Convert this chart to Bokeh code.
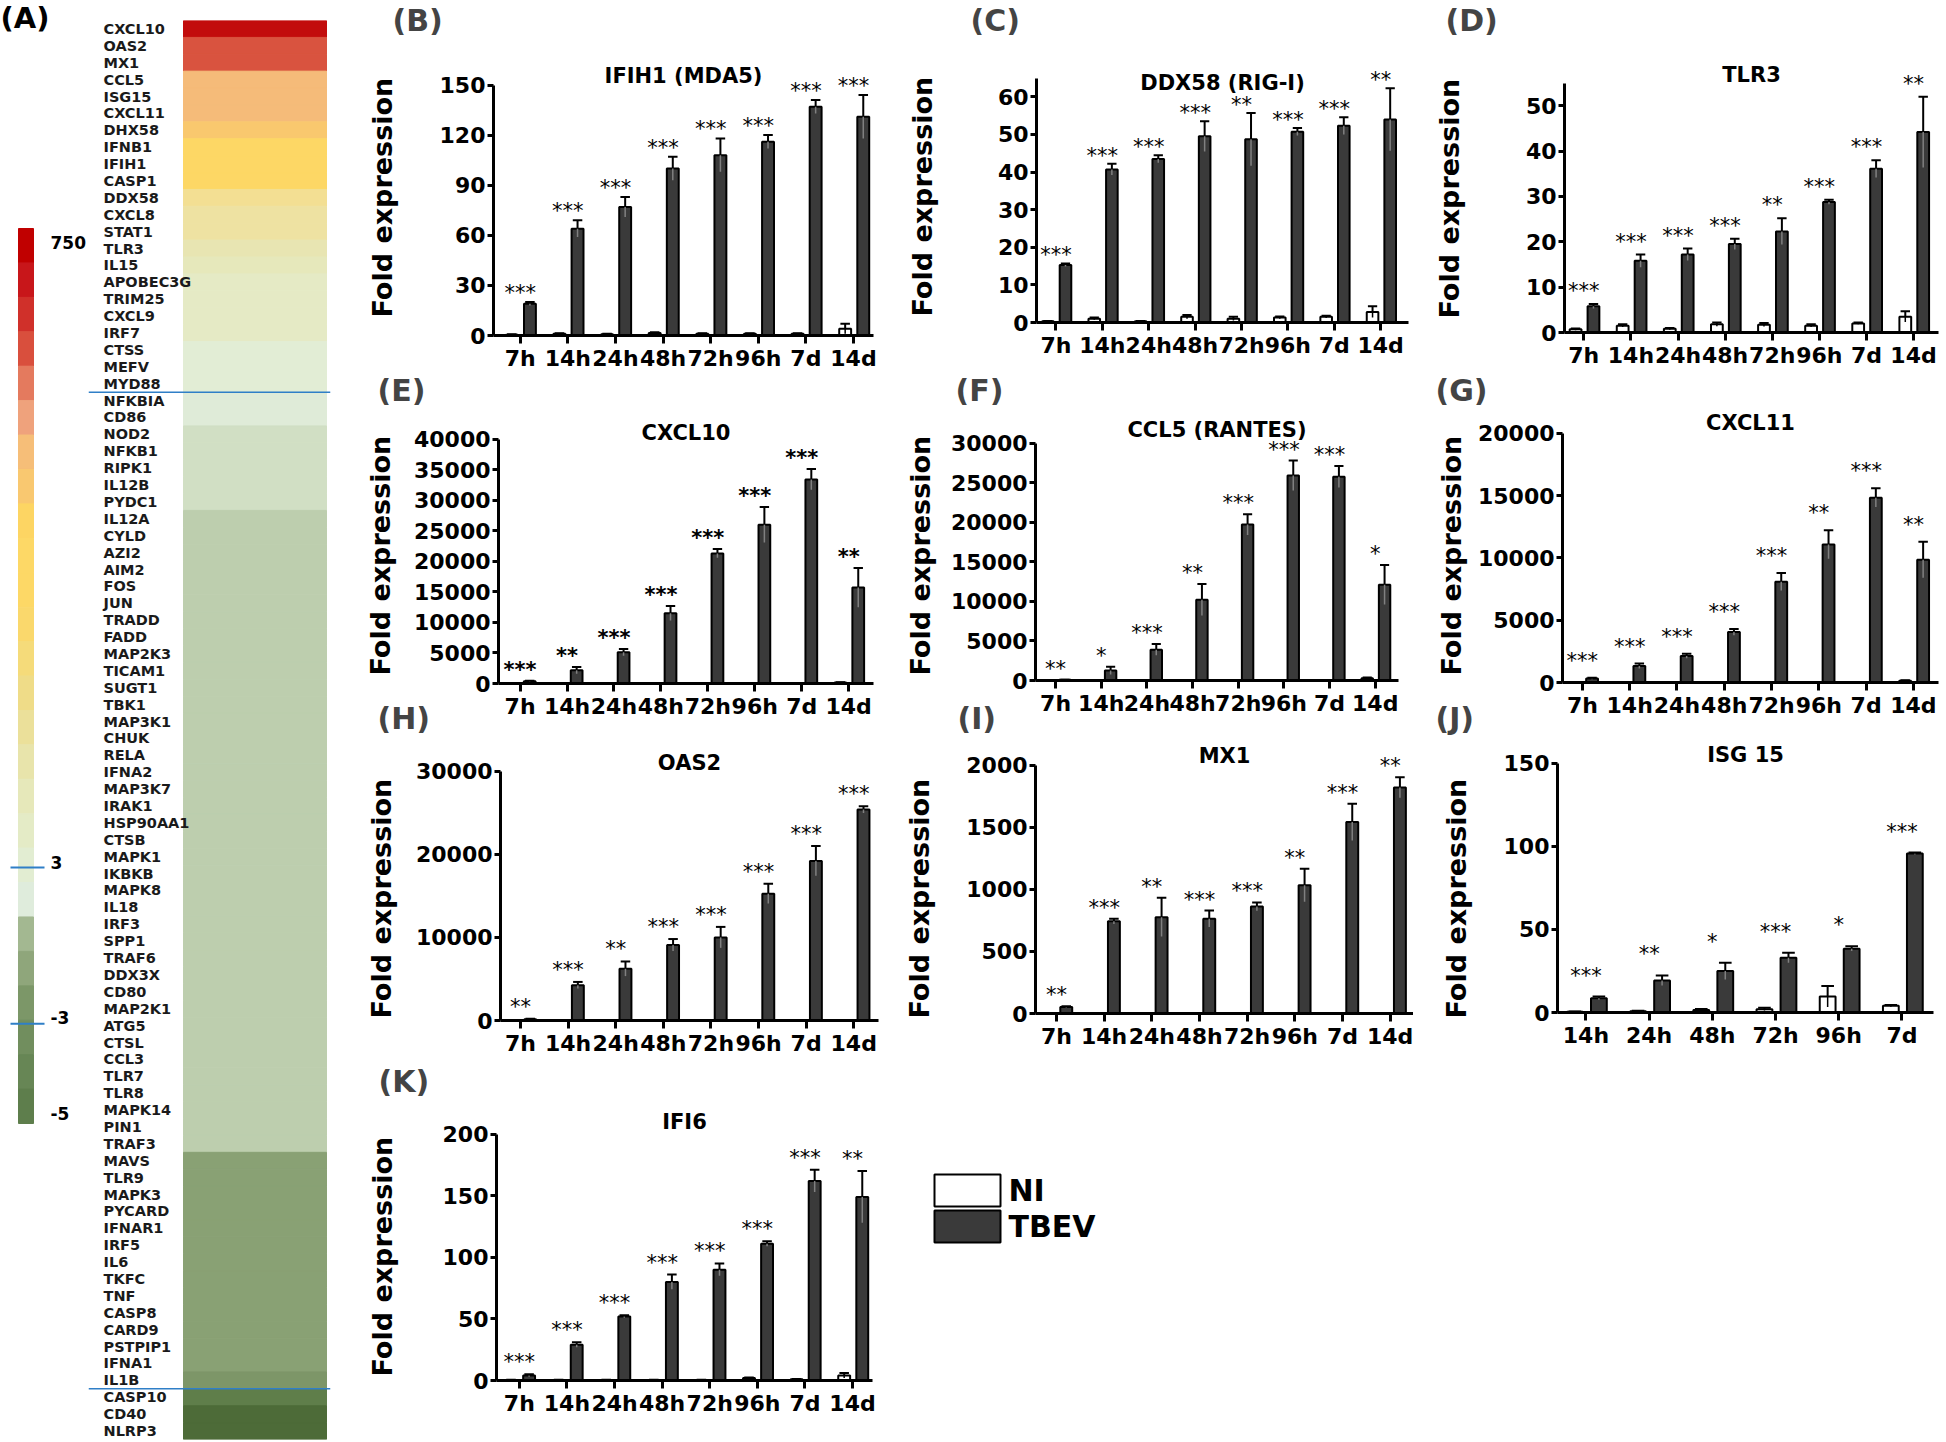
from bokeh.plotting import figure
from bokeh.models import Range1d, FixedTicker, ColumnDataSource, Title
from bokeh.layouts import row, column
from bokeh.embed import file_html
from bokeh.resources import INLINE
from bokeh.core.properties import value

FONT = "DejaVu Sans"
TBEV_FILL = "#3a3a3a"
BLUE = "#2F7FC7"

# ---------------- heatmap data (panel A) ----------------
GENES = ["CXCL10", "OAS2", "MX1", "CCL5", "ISG15", "CXCL11", "DHX58", "IFNB1", "IFIH1", "CASP1",
         "DDX58", "CXCL8", "STAT1", "TLR3", "IL15", "APOBEC3G", "TRIM25", "CXCL9", "IRF7", "CTSS",
         "MEFV", "MYD88", "NFKBIA", "CD86", "NOD2", "NFKB1", "RIPK1", "IL12B", "PYDC1", "IL12A",
         "CYLD", "AZI2", "AIM2", "FOS", "JUN", "TRADD", "FADD", "MAP2K3", "TICAM1", "SUGT1",
         "TBK1", "MAP3K1", "CHUK", "RELA", "IFNA2", "MAP3K7", "IRAK1", "HSP90AA1", "CTSB", "MAPK1",
         "IKBKB", "MAPK8", "IL18", "IRF3", "SPP1", "TRAF6", "DDX3X", "CD80", "MAP2K1", "ATG5",
         "CTSL", "CCL3", "TLR7", "TLR8", "MAPK14", "PIN1", "TRAF3", "MAVS", "TLR9", "MAPK3",
         "PYCARD", "IFNAR1", "IRF5", "IL6", "TKFC", "TNF", "CASP8", "CARD9", "PSTPIP1", "IFNA1",
         "IL1B", "CASP10", "CD40", "NLRP3"]
GENE_COLORS = (["#C20C0C", "#D9533F", "#D9533F", "#F5BB79", "#F5BB79", "#F5BB79", "#F9C86E",
                "#FDD765", "#FDD765", "#FDD765", "#F3DF93", "#EEE2A2", "#EEE2A2", "#E8E5B2", "#E6E8BB"]
               + ["#E5EAC5"] * 4 + ["#E2EDD5"] * 3 + ["#DFEBD8"] * 2 + ["#D1DFC4"] * 5
               + ["#BDCEAE"] * 38 + ["#89A174"] * 13 + ["#7D9668", "#5F7E4A", "#4D6B38", "#4D6B38"])
SEPARATORS_BEFORE = ["NFKBIA", "CASP10"]

CBAR_COLORS = ["#C00000", "#C8161A", "#D0302A", "#D94F3D", "#E47A5E", "#EFA27C", "#F6BE78",
               "#F9C870", "#FDD563", "#FDD866", "#FDD866", "#FAD86C", "#F5DB7A", "#EFDC88",
               "#EBE09A", "#E8E4AB", "#E6E8BA", "#E4EBC6", "#E2EDD2", "#DFECDC", "#A3B891",
               "#8FA67B", "#7C9768", "#718E5E", "#678655", "#5E7E4C"]
CBAR_LABELS = ["750", "3", "-3", "-5"]
CBAR_LABEL_POS = [0.41, 18.42, 22.92, 25.71]
CBAR_MARK_POS = [18.56, 23.1]

# ---------------- bar chart data ----------------
TIMES = ["7h", "14h", "24h", "48h", "72h", "96h", "7d", "14d"]
TIMES_J = ["14h", "24h", "48h", "72h", "96h", "7d"]

tbev_B = [19, 64, 77, 100, 108, 116, 137, 131]
tbev_err_B = [1, 5, 6, 7, 10, 4, 4, 13]
ni_B = [0.5, 1, 0.8, 1.5, 1, 1, 1, 4]
ni_err_B = [0.2, 0.3, 0.2, 0.5, 0.3, 0.3, 0.3, 3]
sig_B = ["***", "***", "***", "***", "***", "***", "***", "***"]
yticks_B = [0, 30, 60, 90, 120, 150]

tbev_C = [15.3, 40.7, 43.5, 49.5, 48.7, 50.7, 52.3, 54]
tbev_err_C = [0.4, 1.5, 1.0, 4.0, 7.0, 1.0, 2.3, 8.3]
ni_C = [0.3, 1.0, 0.3, 1.5, 1.0, 1.3, 1.5, 2.8]
ni_err_C = [0.1, 0.3, 0.1, 0.5, 0.5, 0.3, 0.3, 1.5]
sig_C = ["***", "***", "***", "***", "**", "***", "***", "**"]
yticks_C = [0, 10, 20, 30, 40, 50, 60]

tbev_D = [5.8, 15.8, 17.2, 19.5, 22.3, 28.8, 36.1, 44.2]
tbev_err_D = [0.5, 1.4, 1.3, 1.2, 2.9, 0.5, 1.9, 7.8]
ni_D = [0.7, 1.5, 0.8, 1.8, 1.7, 1.5, 2.0, 3.5]
ni_err_D = [0.2, 0.3, 0.2, 0.4, 0.4, 0.3, 0.2, 1.2]
sig_D = ["***", "***", "***", "***", "**", "***", "***", "**"]
yticks_D = [0, 10, 20, 30, 40, 50]

tbev_E = [350, 2150, 5100, 11500, 21300, 26000, 33400, 15700]
tbev_err_E = [100, 550, 550, 1200, 700, 2900, 1700, 3200]
ni_E = [1, 1, 1, 1, 1, 1, 1, 150]
ni_err_E = [0, 0, 0, 0, 0, 0, 0, 50]
sig_E = ["***", "**", "***", "***", "***", "***", "***", "**"]
yticks_E = [0, 5000, 10000, 15000, 20000, 25000, 30000, 35000, 40000]

tbev_F = [80, 1250, 3900, 10200, 19700, 25900, 25750, 12100]
tbev_err_F = [20, 500, 700, 2000, 1300, 1900, 1350, 2500]
ni_F = [1, 1, 1, 1, 1, 1, 1, 300]
ni_err_F = [0, 0, 0, 0, 0, 0, 0, 80]
sig_F = ["**", "*", "***", "**", "***", "***", "***", "*"]
yticks_F = [0, 5000, 10000, 15000, 20000, 25000, 30000]

tbev_G = [320, 1320, 2120, 4050, 8080, 11070, 14830, 9850]
tbev_err_G = [60, 200, 180, 250, 700, 1150, 750, 1450]
ni_G = [1, 1, 1, 1, 1, 1, 1, 150]
ni_err_G = [0, 0, 0, 0, 0, 0, 0, 40]
sig_G = ["***", "***", "***", "***", "***", "**", "***", "**"]
yticks_G = [0, 5000, 10000, 15000, 20000]

tbev_H = [160, 4240, 6220, 9080, 10000, 15260, 19200, 25370]
tbev_err_H = [40, 400, 880, 720, 1260, 1190, 1800, 400]
ni_H = [1, 1, 1, 1, 1, 1, 1, 1]
ni_err_H = [0, 0, 0, 0, 0, 0, 0, 0]
sig_H = ["**", "***", "**", "***", "***", "***", "***", "***"]
yticks_H = [0, 10000, 20000, 30000]

tbev_I = [53, 742, 776, 763, 861, 1033, 1542, 1820]
tbev_err_I = [5, 21, 156, 66, 34, 133, 148, 82]
ni_I = [1, 1, 1, 1, 1, 1, 1, 1]
ni_err_I = [0, 0, 0, 0, 0, 0, 0, 0]
sig_I = ["**", "***", "**", "***", "***", "**", "***", "**"]
yticks_I = [0, 500, 1000, 1500, 2000]

tbev_J = [8.6, 19.3, 24.9, 32.9, 38.4, 95.6]
tbev_err_J = [1.0, 3.0, 5.0, 3.0, 1.4, 0.6]
ni_J = [0.5, 0.8, 1.5, 2.0, 9.6, 4.0]
ni_err_J = [0.1, 0.2, 0.6, 0.8, 6.3, 0.5]
sig_J = ["***", "**", "*", "***", "*", "***"]
yticks_J = [0, 50, 100, 150]

tbev_K = [4, 29, 52, 80, 90, 111, 162, 149]
tbev_err_K = [1, 2, 1, 6, 5, 2, 9, 21]
ni_K = [0.5, 0.5, 0.5, 0.5, 0.5, 2, 1, 4]
ni_err_K = [0.1, 0.1, 0.1, 0.1, 0.1, 0.5, 0.3, 2]
sig_K = ["***", "***", "***", "***", "***", "***", "***", "**"]
yticks_K = [0, 50, 100, 150, 200]

LEGEND_LABELS = ["NI", "TBEV"]
LEGEND_COLORS = ["white", TBEV_FILL]

# ---------------- layout constants (page pixels) ----------------
A_W, A_H = 353, 1440
COL_X = [353, 893, 1413]
COL_W = [540, 520, 527]
ROW_Y = [0, 370, 698, 1061]
ROW_B = [380, 728, 1066, 1440]
ROW_H = [b - t for t, b in zip(ROW_Y, ROW_B)]
TOP = 34
BAR_W = 0.25
NI_OFF = -0.175
TB_OFF = 0.205
CAP = 0.1
TICK_FS = 22
DIGIT_W = 0.696 * TICK_FS
YT_FS = 27
YT_LEN = 236            # rendered length of the rotated y title (px)


def clean(p):
    p.outline_line_color = None
    p.border_fill_color = None
    p.background_fill_color = None
    p.xgrid.visible = False
    p.ygrid.visible = False


def bar_panel(cats, tbev, tbev_err, ni, ni_err, sig, title, letter, yticks, g):
    n = len(cats)
    fx, fy = COL_X[g["col"]], ROW_Y[g["row"]]
    fw, fh = COL_W[g["col"]], ROW_H[g["row"]]
    left = g["axis"] - fx
    right = fx + fw - g["xend"]
    y0 = g["y0"] - fy
    ytop = g["ytop_px"] - fy
    ymax = yticks[-1]
    scale = (y0 - ytop) / ymax
    y_end = ymax + (ytop - TOP) / scale
    x0, x1 = -g["pad"][0], n - 1 + g["pad"][1]
    p = figure(width=fw, height=fh, x_range=Range1d(x0, x1), y_range=Range1d(0, y_end),
               min_border_left=left, min_border_right=right, min_border_top=TOP,
               min_border_bottom=fh - y0, output_backend="svg", toolbar_location=None,
               title=letter)
    clean(p)
    p.title.text_font = FONT
    p.title.text_font_size = "30px"
    p.title.text_font_style = "bold"
    p.title.align = "left"
    p.title.offset = g["letter_x"] - g["axis"]
    p.title.standoff = 0

    xs = list(range(n))
    x_ni = [i + NI_OFF for i in xs]
    x_tb = [i + TB_OFF for i in xs]
    src = ColumnDataSource(dict(x_ni=x_ni, x_tb=x_tb, ni=ni, tb=tbev))
    p.vbar(x="x_ni", top="ni", bottom=0, width=BAR_W, source=src,
           fill_color="white", line_color="black", line_width=2)
    p.vbar(x="x_tb", top="tb", bottom=0, width=BAR_W, source=src,
           fill_color=TBEV_FILL, line_color="black", line_width=2)

    # error bars
    for xv, vals, errs, inner in ((x_tb, tbev, tbev_err, "#808080"), (x_ni, ni, ni_err, "black")):
        xe = [x for x, e in zip(xv, errs) if e > 0]
        ve = [v for v, e in zip(vals, errs) if e > 0]
        ee = [e for e in errs if e > 0]
        if not xe:
            continue
        hi = [v + e for v, e in zip(ve, ee)]
        lo = [max(v - e, 0) for v, e in zip(ve, ee)]
        p.segment(x0=xe, y0=ve, x1=xe, y1=hi, line_color="black", line_width=2)
        p.segment(x0=xe, y0=lo, x1=xe, y1=ve, line_color=inner, line_width=1.5)
        p.segment(x0=[x - CAP for x in xe], y0=hi, x1=[x + CAP for x in xe], y1=hi,
                  line_color="black", line_width=2)

    # significance stars
    star_y = [max(t + te, a + ae) for t, te, a, ae in zip(tbev, tbev_err, ni, ni_err)]
    p.text(x=xs, y=star_y, text=sig, text_align="center", text_baseline="alphabetic",
           y_offset=-(g["star_h"] - 3), text_font=value(FONT), text_font_size="21px",
           text_font_style="bold" if g.get("star_bold") else "normal", text_color="black")

    # chart title
    p.text(x=[(x0 + x1) / 2], y=[ymax], text=[title], text_align="center",
           text_baseline="middle", y_offset=g["title_dy"], text_font=value(FONT),
           text_font_size="21px", text_font_style="bold", text_color="black")

    # axes
    p.xaxis.ticker = FixedTicker(ticks=xs)
    p.xaxis.major_label_overrides = {i: c for i, c in enumerate(cats)}
    p.yaxis.ticker = FixedTicker(ticks=yticks)
    p.yaxis.bounds = (0, g["axis_top"])
    for ax in (p.xaxis, p.yaxis):
        ax.axis_line_width = 3
        ax.axis_line_color = "black"
        ax.major_tick_line_width = 3
        ax.major_tick_line_color = "black"
        ax.major_tick_in = 0
        ax.minor_tick_line_color = None
        ax.major_label_text_font = FONT
        ax.major_label_text_font_size = f"{TICK_FS}px"
        ax.major_label_text_font_style = "bold"
        ax.major_label_text_color = "black"
    p.xaxis.major_tick_out = 8
    p.xaxis.major_label_standoff = 2
    p.yaxis.major_tick_out = 6
    p.yaxis.major_label_standoff = 2

    # y-axis title: a spacer then a left-side title, placed where the original sits
    label_w = max(len(str(t)) for t in yticks) * DIGIT_W
    gap = (g["axis"] - g["ylabel_cx"]) - 6 - 2 - label_w - YT_FS * 1.164 / 2 - 3 - 1.2
    spacer = Title(text=" ", text_font_size="1px", standoff=max(int(round(gap)), 0))
    p.add_layout(spacer, "left")
    ytitle = Title(text="Fold expression", align="left", text_font=FONT,
                   text_font_size=f"{YT_FS}px", text_font_style="bold", text_color="black",
                   standoff=0, offset=g["y0"] - (g["ylabel_cy"] + YT_LEN / 2))
    p.add_layout(ytitle, "left")
    return column(p)


pB = bar_panel(TIMES, tbev_B, tbev_err_B, ni_B, ni_err_B, sig_B, "IFIH1 (MDA5)", "(B)", yticks_B,
               dict(col=0, row=0, axis=493, xend=873, y0=335, ytop_px=82, axis_top=150, title_dy=-9,
                    letter_x=392, ylabel_cx=383, ylabel_cy=199, pad=(0.56, 0.42), star_h=12))
pC = bar_panel(TIMES, tbev_C, tbev_err_C, ni_C, ni_err_C, sig_C, "DDX58 (RIG-I)", "(C)", yticks_C,
               dict(col=1, row=0, axis=1036, xend=1408, y0=322, ytop_px=94, axis_top=65, title_dy=-14,
                    letter_x=970, ylabel_cx=923, ylabel_cy=198, pad=(0.42, 0.6), star_h=11))
pD = bar_panel(TIMES, tbev_D, tbev_err_D, ni_D, ni_err_D, sig_D, "TLR3", "(D)", yticks_D,
               dict(col=2, row=0, axis=1564, xend=1938, y0=332, ytop_px=103, axis_top=55, title_dy=-31,
                    letter_x=1445, ylabel_cx=1450, ylabel_cy=200, pad=(0.41, 0.53), star_h=16))
pE = bar_panel(TIMES, tbev_E, tbev_err_E, ni_E, ni_err_E, sig_E, "CXCL10", "(E)", yticks_E,
               dict(col=0, row=1, axis=498, xend=873, y0=683, ytop_px=436, axis_top=40000, title_dy=-6,
                    letter_x=377, ylabel_cx=382, ylabel_cy=557, pad=(0.46, 0.53), star_h=14,
                    star_bold=True))
pF = bar_panel(TIMES, tbev_F, tbev_err_F, ni_F, ni_err_F, sig_F, "CCL5 (RANTES)", "(F)", yticks_F,
               dict(col=1, row=1, axis=1035, xend=1398, y0=680, ytop_px=440, axis_top=30000, title_dy=-13,
                    letter_x=955, ylabel_cx=922, ylabel_cy=557, pad=(0.44, 0.51), star_h=14))
pG = bar_panel(TIMES, tbev_G, tbev_err_G, ni_G, ni_err_G, sig_G, "CXCL11", "(G)", yticks_G,
               dict(col=2, row=1, axis=1562, xend=1938, y0=682, ytop_px=430, axis_top=20000, title_dy=-10,
                    letter_x=1435, ylabel_cx=1453, ylabel_cy=557, pad=(0.42, 0.53), star_h=20))
pH = bar_panel(TIMES, tbev_H, tbev_err_H, ni_H, ni_err_H, sig_H, "OAS2", "(H)", yticks_H,
               dict(col=0, row=2, axis=500, xend=878, y0=1020, ytop_px=768, axis_top=30000, title_dy=-8,
                    letter_x=377, ylabel_cx=383, ylabel_cy=900, pad=(0.42, 0.52), star_h=15))
pI = bar_panel(TIMES, tbev_I, tbev_err_I, ni_I, ni_err_I, sig_I, "MX1", "(I)", yticks_I,
               dict(col=1, row=2, axis=1035, xend=1415, y0=1013, ytop_px=762, axis_top=2000, title_dy=-9,
                    letter_x=957, ylabel_cx=920, ylabel_cy=900, pad=(0.44, 0.49), star_h=14))
pJ = bar_panel(TIMES_J, tbev_J, tbev_err_J, ni_J, ni_err_J, sig_J, "ISG 15", "(J)", yticks_J,
               dict(col=2, row=2, axis=1557, xend=1933, y0=1012, ytop_px=760, axis_top=150, title_dy=-8,
                    letter_x=1435, ylabel_cx=1457, ylabel_cy=900, pad=(0.45, 0.5), star_h=24))
pK = bar_panel(TIMES, tbev_K, tbev_err_K, ni_K, ni_err_K, sig_K, "IFI6", "(K)", yticks_K,
               dict(col=0, row=3, axis=496, xend=872, y0=1380, ytop_px=1131, axis_top=200, title_dy=-12,
                    letter_x=378, ylabel_cx=383, ylabel_cy=1258, pad=(0.48, 0.42), star_h=15))

# ---------------- legend figure ----------------
LEG_W, LEG_H = COL_W[1] + COL_W[2], ROW_H[3]
leg = figure(width=LEG_W, height=LEG_H, x_range=Range1d(0, LEG_W), y_range=Range1d(LEG_H, 0),
             min_border=0, x_axis_location=None, y_axis_location=None,
             output_backend="svg", toolbar_location=None)
clean(leg)
BOX_X, BOX_Y, BOX_W, BOX_H, BOX_PITCH = 41, 113, 66, 32, 36
tops = [BOX_Y + i * BOX_PITCH for i in range(len(LEGEND_LABELS))]
leg.quad(left=BOX_X, right=BOX_X + BOX_W, top=tops, bottom=[t + BOX_H for t in tops],
         fill_color=LEGEND_COLORS, line_color="black", line_width=2)
leg.text(x=BOX_X + BOX_W + 8, y=[t + BOX_H / 2 for t in tops], text=LEGEND_LABELS,
         text_align="left", text_baseline="middle", text_font=value(FONT),
         text_font_size="30px", text_font_style="bold", text_color="black")

# ---------------- panel A: colour bar ----------------
CB_W = 88
CB_X0, CB_BAR_W, CB_TOP, CB_BOTTOM = 18, 15, 228, 1123
CB_BLOCK = (CB_BOTTOM - CB_TOP) / len(CBAR_COLORS)
cbar = figure(width=CB_W, height=A_H,
              x_range=Range1d(-CB_X0 / CB_BAR_W, (CB_W - CB_X0) / CB_BAR_W),
              y_range=Range1d((A_H - CB_TOP) / CB_BLOCK, -CB_TOP / CB_BLOCK),
              min_border=0, x_axis_location=None, y_axis_location=None,
              output_backend="svg", toolbar_location=None)
clean(cbar)
nb = len(CBAR_COLORS)
cbar.rect(x=[0.5] * nb, y=[i + 0.5 for i in range(nb)], width=1, height=1,
          fill_color=CBAR_COLORS, line_color=CBAR_COLORS, line_width=1)
cbar.segment(x0=(10 - CB_X0) / CB_BAR_W, y0=CBAR_MARK_POS, x1=(44 - CB_X0) / CB_BAR_W,
             y1=CBAR_MARK_POS, line_color=BLUE, line_width=2)
cbar.text(x=(50 - CB_X0) / CB_BAR_W, y=CBAR_LABEL_POS, text=CBAR_LABELS, text_align="left",
          text_baseline="middle", text_font=value(FONT), text_font_size="17px",
          text_font_style="bold", text_color="black")
cbar.text(x=[-CB_X0 / CB_BAR_W], y=[-CB_TOP / CB_BLOCK], text=["(A)"], text_align="left",
          text_baseline="top", text_font=value(FONT), text_font_size="29px",
          text_font_style="bold", text_color="black")

# ---------------- panel A: heatmap ----------------
HM_W = A_W - CB_W
HM_PX = 143.0           # pixels per heat column
HM_COL_LEFT = 95        # column left edge inside figure (px)
HM_FRAME_R = 242
HM_TOP, HM_BOTTOM = 20, 1439
ng = len(GENES)
heat = figure(width=HM_W, height=A_H,
              x_range=Range1d(-HM_COL_LEFT / HM_PX, (HM_FRAME_R - HM_COL_LEFT) / HM_PX),
              y_range=Range1d(ng, 0),
              min_border_left=0, min_border_right=HM_W - HM_FRAME_R, min_border_top=HM_TOP,
              min_border_bottom=A_H - HM_BOTTOM, x_axis_location=None, y_axis_location=None,
              output_backend="svg", toolbar_location=None)
clean(heat)
heat.rect(x=[0.5] * ng, y=[i + 0.5 for i in range(ng)], width=1, height=1,
          fill_color=GENE_COLORS, line_color=GENE_COLORS, line_width=1)
heat.text(x=(15 - HM_COL_LEFT) / HM_PX, y=[i + 0.5 for i in range(ng)], text=GENES,
          text_align="left", text_baseline="middle", text_font=value(FONT),
          text_font_size="14.5px", text_font_style="bold", text_color="#1a1a1a")
sep_y = [GENES.index(gname) for gname in SEPARATORS_BEFORE]
heat.segment(x0=-HM_COL_LEFT / HM_PX, y0=sep_y, x1=(HM_FRAME_R - HM_COL_LEFT) / HM_PX, y1=sep_y,
             line_color=BLUE, line_width=1.5)


def shift(i):
    return (ROW_Y[i] - ROW_B[i - 1], 0, 0, 0)


layout = row(
    row(column(cbar), column(heat)),
    column(
        row(pB, pC, pD),
        row(pE, pF, pG, margin=shift(1)),
        row(pH, pI, pJ, margin=shift(2)),
        row(pK, column(leg), margin=shift(3)),
    ),
)

open("out.html", "w").write(file_html(layout, INLINE))
